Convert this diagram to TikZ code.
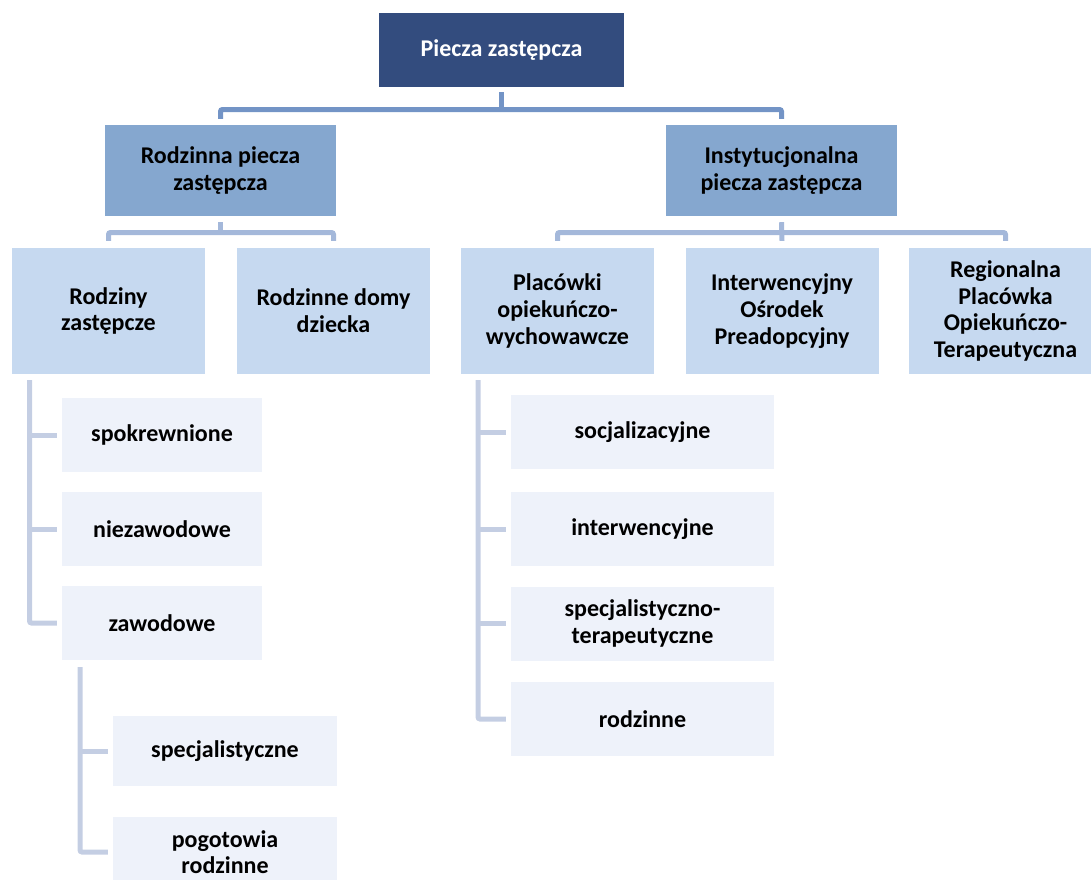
\documentclass[tikz,border=0pt]{standalone}
\usepackage{fontspec}
\setmainfont{Carlito}
\usetikzlibrary{calc}
\definecolor{topblue}{RGB}{51,76,126}
\definecolor{lvtwo}{RGB}{133,167,207}
\definecolor{lvthree}{RGB}{198,217,240}
\definecolor{lvfour}{RGB}{238,242,250}
\definecolor{conone}{RGB}{115,148,198}
\definecolor{contwo}{RGB}{164,184,218}
\definecolor{conthree}{RGB}{196,206,227}
\tikzset{
  boxbase/.style={rectangle, inner sep=0pt, align=center, font=\fontsize{24}{26.7}\selectfont\bfseries},
  topbox/.style={boxbase, fill=topblue, text=white, minimum width=245pt, minimum height=74pt},
  twobox/.style={boxbase, fill=lvtwo, minimum width=231pt, minimum height=91pt},
  threebox/.style={boxbase, fill=lvthree, minimum width=193pt, minimum height=126pt},
  fourbox/.style={boxbase, fill=lvfour, minimum height=74pt},
  cone/.style={draw=conone, line width=5pt, rounded corners=2pt},
  ctwo/.style={draw=contwo, line width=5pt, rounded corners=2pt},
  cthree/.style={draw=conthree, line width=5pt, rounded corners=2pt},
}
\begin{document}
\begin{tikzpicture}[x=1pt,y=-1pt]
\useasboundingbox (0,0) rectangle (1091,879);
\clip (0,0) rectangle (1091,879);
% nodes
\node[topbox] (top) at (501.5,50) {Piecza zastępcza};
\node[twobox] (rpz) at (220.5,170.5) {Rodzinna piecza\\zastępcza};
\node[twobox] (ipz) at (781.5,170.5) {Instytucjonalna\\piecza zastępcza};
\node[threebox] (rz) at (108.5,311) {Rodziny\\zastępcze};
\node[threebox] (rdd) at (333.5,311) {Rodzinne domy\\dziecka};
\node[threebox] (pow) at (557.5,311) {Placówki\\opiekuńczo-\\wychowawcze};
\node[threebox] (iop) at (782,311) {Interwencyjny\\Ośrodek\\Preadopcyjny};
\node[threebox] (rpot) at (1005.5,311) {Regionalna\\Placówka\\Opiekuńczo-\\Terapeutyczna};
\node[fourbox, minimum width=200pt] (spo) at (162,435) {spokrewnione};
\node[fourbox, minimum width=200pt] (nie) at (162,529) {niezawodowe};
\node[fourbox, minimum width=200pt] (zaw) at (162,623) {zawodowe};
\node[fourbox, minimum width=224pt, minimum height=70pt] (spe) at (225,751) {specjalistyczne};
\node[fourbox, minimum width=224pt, minimum height=70pt] (pog) at (225,852) {pogotowia\\rodzinne};
\node[fourbox, minimum width=263pt] (soc) at (642.5,432) {socjalizacyjne};
\node[fourbox, minimum width=263pt] (int) at (642.5,529) {interwencyjne};
\node[fourbox, minimum width=263pt] (spt) at (642.5,623.5) {specjalistyczno-\\terapeutyczne};
\node[fourbox, minimum width=263pt] (rod) at (642.5,719) {rodzinne};
% bar coordinates
\coordinate (b1) at (0,109.5);
\coordinate (b2) at (0,232.5);
\coordinate (v1) at (29.5,380);
\coordinate (v2) at (80,667);
\coordinate (v3) at (478,380);
% level 1 -> 2
\draw[cone] ([yshift=-5pt]top.south) -- (top.south |- b1);
\draw[cone] ([yshift=6pt]rpz.north) |- (b1 -| top.south) -| ([yshift=6pt]ipz.north);
% level 2 -> 3
\draw[ctwo] ([yshift=-6pt]rpz.south) -- (rpz.south |- b2);
\draw[ctwo] ([yshift=7pt]rz.north) |- (b2 -| rpz.south) -| ([yshift=7pt]rdd.north);
\draw[ctwo] ([yshift=-6pt]ipz.south) -- ([yshift=7pt]iop.north);
\draw[ctwo] ([yshift=7pt]pow.north) |- (b2 -| ipz.south) -| ([yshift=7pt]rpot.north);
% trees
\draw[cthree] (v1) |- ([xshift=-5pt]zaw.west);
\draw[cthree] (v1 |- spo.west) -- ([xshift=-5pt]spo.west);
\draw[cthree] (v1 |- nie.west) -- ([xshift=-5pt]nie.west);
\draw[cthree] (v2) |- ([xshift=-5pt]pog.west);
\draw[cthree] (v2 |- spe.west) -- ([xshift=-5pt]spe.west);
\draw[cthree] (v3) |- ([xshift=-5pt]rod.west);
\draw[cthree] (v3 |- soc.west) -- ([xshift=-5pt]soc.west);
\draw[cthree] (v3 |- int.west) -- ([xshift=-5pt]int.west);
\draw[cthree] (v3 |- spt.west) -- ([xshift=-5pt]spt.west);
\end{tikzpicture}
\end{document}
